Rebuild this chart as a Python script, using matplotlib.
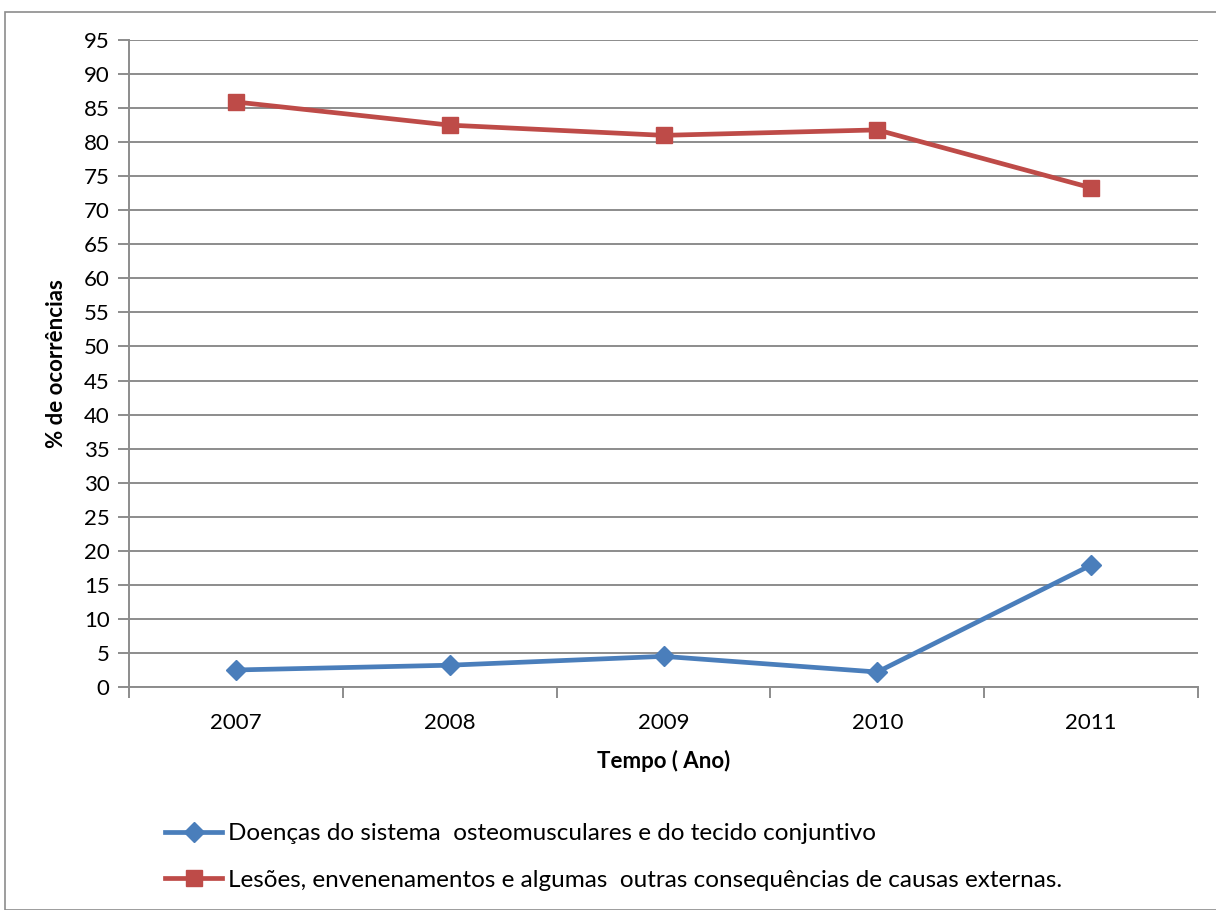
import matplotlib
matplotlib.use("Agg")
import matplotlib.pyplot as plt
from matplotlib.patches import Rectangle

years = ["2007", "2008", "2009", "2010", "2011"]
doencas = [2.5, 3.2, 4.5, 2.2, 17.9]
lesoes = [85.9, 82.5, 81.0, 81.8, 73.3]
yticks = list(range(0, 100, 5))
label_doencas = "Doenças do sistema  osteomusculares e do tecido conjuntivo"
label_lesoes = "Lesões, envenenamentos e algumas  outras consequências de causas externas."

plt.rcParams['font.family'] = ['Lato', 'DejaVu Sans']

fig = plt.figure(figsize=(12.16, 9.10), dpi=100)
fig.patches.append(Rectangle((5/1216, 0), 1.2, 1 - 12/910, transform=fig.transFigure,
                             fill=False, edgecolor='#8c8c8c', linewidth=1.2))
ax = fig.add_axes([129/1216, 1 - 687/910, (1198 - 129)/1216, (687 - 40)/910])

x = list(range(len(years)))
ax.plot(x, doencas, color='#4A7EBB', linewidth=3.4, marker='D', markersize=10,
        label=label_doencas)
ax.plot(x, lesoes, color='#BE4B48', linewidth=3.4, marker='s', markersize=12,
        label=label_lesoes)

ax.set_xlim(-0.5, 4.5)
ax.set_ylim(0, 95)
ax.set_yticks(yticks)
ax.set_yticklabels([str(v) for v in yticks], fontsize=16)
ax.yaxis.grid(True, color='#8c8c8c', linewidth=1.4)
ax.set_axisbelow(True)

ax.set_xticks([i - 0.5 for i in range(len(years) + 1)])
ax.set_xticklabels([])
ax.set_xticks(x, minor=True)
ax.set_xticklabels(years, minor=True, fontsize=16)
ax.tick_params(axis='x', which='minor', length=0, pad=19)
ax.tick_params(axis='x', which='major', length=8, color='#8c8c8c', width=1.4)
ax.tick_params(axis='y', length=8, color='#8c8c8c', width=1.4, pad=6)

for s in ['top', 'right']:
    ax.spines[s].set_visible(False)
for s in ['left', 'bottom']:
    ax.spines[s].set_color('#8c8c8c')
    ax.spines[s].set_linewidth(1.4)

ax.set_xlabel("Tempo ( Ano)", fontsize=16, fontweight='bold', labelpad=12)
ax.set_ylabel("% de ocorrências", fontsize=16, fontweight='bold', labelpad=12)

leg = fig.legend(loc='upper left', bbox_to_anchor=(165/1216, 1 - 823/910),
                 frameon=False, fontsize=17.5, handlelength=2.35, handletextpad=0.25,
                 labelspacing=1.05, borderpad=0, borderaxespad=0)

fig.savefig("out.png", dpi=100)
